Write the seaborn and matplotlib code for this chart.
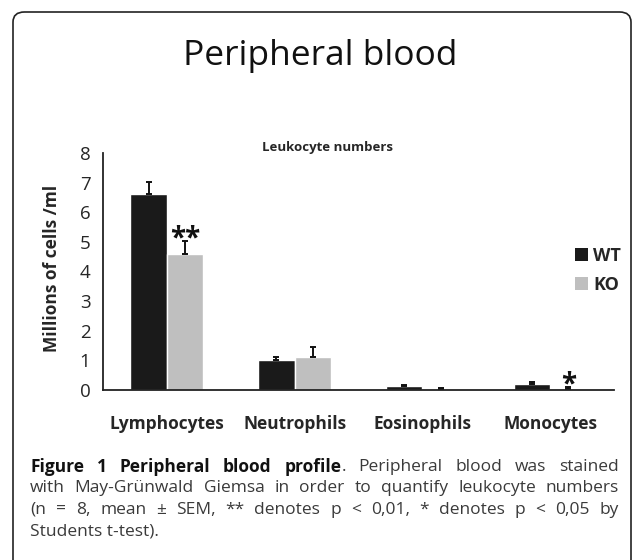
import pandas as pd
import matplotlib.pyplot as plt
import seaborn as sns
import numpy as np
from matplotlib.patches import FancyBboxPatch, Patch
from matplotlib.transforms import IdentityTransform

# datos
cells = ["Lymphocytes", "Neutrophils", "Eosinophils", "Monocytes"]
wt_mean = [6.6, 1.0, 0.12, 0.20]
wt_sem = [0.42, 0.13, 0.04, 0.07]
ko_mean = [4.6, 1.13, 0.03, 0.05]
ko_sem = [0.42, 0.32, 0.05, 0.04]
signif = ["**", "", "", "*"]
groups = ["WT", "KO"]
colors = ["#1a1a1a", "#bfbfbf"]
y_ticks = [0, 1, 2, 3, 4, 5, 6, 7, 8]

W, H = 632, 560

sns.set_style("white")
plt.rcParams["font.family"] = ["Open Sans", "DejaVu Sans"]

df = pd.DataFrame({
    "cell": cells * 2,
    "genotype": ["WT"] * 4 + ["KO"] * 4,
    "value": wt_mean + ko_mean,
})

fig = plt.figure(figsize=(W / 100, H / 100), dpi=100)


def fx(x):
    return x / W


def fy(y):
    return 1 - y / H


# marco redondeado
frame = FancyBboxPatch((fx(13), fy(575)), fx(631) - fx(13), fy(12) - fy(575),
                       boxstyle="round,pad=0,rounding_size=0.018",
                       transform=fig.transFigure, fill=False,
                       edgecolor="#222222", linewidth=1.2)
fig.patches.append(frame)

fig.text(fx(320), fy(56), "Peripheral blood", ha="center", va="center",
         fontsize=25.5, color="#111111")

ax = fig.add_axes([fx(103), fy(390), fx(614) - fx(103), fy(153) - fy(390)])
sns.barplot(data=df, x="cell", y="value", hue="genotype", order=cells,
            hue_order=groups, palette=colors, width=0.57, saturation=1,
            errorbar=None, legend=False, ax=ax)

for cont, err in zip(ax.containers, [wt_sem, ko_sem]):
    xs = [p.get_x() + p.get_width() / 2 for p in cont]
    ys = [p.get_height() for p in cont]
    ax.errorbar(xs, ys, yerr=[np.zeros(len(err)), err], fmt="none",
                ecolor="#111111", elinewidth=1.4, capsize=2.5, capthick=1.4)

ko_cont = ax.containers[1]
for p, s, e in zip(ko_cont, signif, ko_sem):
    if s:
        ax.text(p.get_x() + p.get_width() / 2, p.get_height() + e + 0.08, s,
                ha="center", va="center", fontsize=20, fontweight="bold",
                color="#111111")

ax.set_xlim(-0.5, 3.5)
ax.set_ylim(0, 8)
ax.set_yticks(y_ticks)
ax.set_yticklabels([str(t) for t in y_ticks], fontsize=13.5)
ax.set_xticks(range(4))
ax.set_xticklabels(cells, fontsize=12.5, fontweight="bold")
ax.set_xticks(np.arange(-0.5, 4, 1), minor=True)
ax.tick_params(axis="x", which="major", length=0, pad=18)
ax.tick_params(axis="x", which="minor", length=6, width=1.2, direction="out",
               color="#222222")
ax.tick_params(axis="y", length=6, width=1.2, direction="out", pad=3,
               color="#222222")
ax.set_xlabel("")
ax.set_ylabel("")
sns.despine(ax=ax)
for sp in ["left", "bottom"]:
    ax.spines[sp].set_linewidth(1.3)
    ax.spines[sp].set_color("#222222")

fig.text(fx(52), fy(268), "Millions of cells /ml", rotation=90, ha="center",
         va="center", fontsize=12.5, fontweight="bold")
fig.text(fx(328), fy(148), "Leukocyte numbers", ha="center", va="center",
         fontsize=9.5, fontweight="bold")

handles = [Patch(facecolor=c, edgecolor="none") for c in colors]
fig.legend(handles, groups, loc="upper left",
           bbox_to_anchor=(fx(575), fy(247)), frameon=False,
           prop={"weight": "bold", "size": 13}, handlelength=0.7,
           handleheight=0.7, handletextpad=0.3, labelspacing=0.6,
           borderaxespad=0, borderpad=0)

# pie de figura justificado
caption = [
    [("Figure", "bold", False), ("1", "bold", False), ("Peripheral", "bold", False),
     ("blood", "bold", False), ("profile", "bold", False), (".", "normal", True),
     ("Peripheral", "normal", False), ("blood", "normal", False),
     ("was", "normal", False), ("stained", "normal", False)],
    [(w, "normal", False) for w in
     "with May-Grünwald Giemsa in order to quantify leukocyte numbers".split()],
    [(w, "normal", False) for w in
     "(n = 8, mean ± SEM, ** denotes p < 0,01, * denotes p < 0,05 by".split()],
]
line_y = [467, 488, 510]
x0, x1 = 30, 619
cap_size = 12.5

renderer = fig.canvas.get_renderer()
for tokens, yy in zip(caption, line_y):
    objs = []
    for txt, wt, join in tokens:
        col = "#111111" if wt == "bold" else "#3a3a3a"
        objs.append(fig.text(0, H - yy, txt, transform=IdentityTransform(),
                             fontsize=cap_size, fontweight=wt, color=col,
                             va="center", ha="left"))
    widths = [o.get_window_extent(renderer).width for o in objs]
    ngaps = sum(1 for t in tokens[1:] if not t[2])
    gap = (x1 - x0 - sum(widths)) / ngaps
    x = x0
    for i, (o, tok) in enumerate(zip(objs, tokens)):
        if i > 0:
            x += 0 if tok[2] else gap
        o.set_x(x)
        x += widths[i]

fig.text(fx(x0), fy(532), "Students t-test).", fontsize=cap_size,
         color="#3a3a3a", va="center", ha="left")

fig.savefig("out.png", dpi=100)
